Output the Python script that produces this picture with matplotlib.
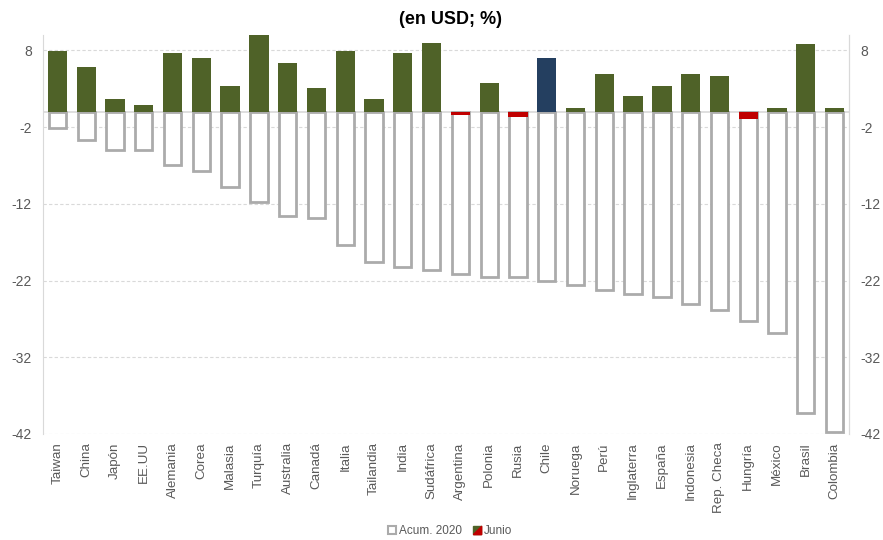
import numpy as np
import matplotlib
matplotlib.use("Agg")
from matplotlib import pyplot as plt
from matplotlib.lines import Line2D
from matplotlib.legend_handler import HandlerTuple

plt.rcParams['font.family'] = ['Liberation Sans', 'DejaVu Sans']
plt.rcParams['axes.unicode_minus'] = False

#==============================================================================
#                  Datos
#==============================================================================

paises = ['Taiwan', 'China', 'Japón', 'EE.UU', 'Alemania', 'Corea', 'Malasia',
          'Turquía', 'Australia', 'Canadá', 'Italia', 'Tailandia', 'India',
          'Sudáfrica', 'Argentina', 'Polonia', 'Rusia', 'Chile', 'Noruega',
          'Perú', 'Inglaterra', 'España', 'Indonesia', 'Rep. Checa', 'Hungría',
          'México', 'Brasil', 'Colombia']

acum2020 = [-2.1, -3.7, -5.0, -5.0, -6.9, -7.7, -9.8, -11.7, -13.6, -13.8,
            -17.4, -19.6, -20.3, -20.6, -21.1, -21.6, -21.6, -22.0, -22.6,
            -23.2, -23.7, -24.2, -25.1, -25.9, -27.3, -28.9, -39.2, -41.7]

junio = [7.9, 5.8, 1.7, 0.9, 7.7, 7.0, 3.4, 10.0, 6.3, 3.1, 7.9, 1.7, 7.7,
         8.9, -0.4, 3.7, -0.7, 7.0, 0.5, 4.9, 2.1, 3.3, 4.9, 4.7, -1.0, 0.5,
         8.8, 0.5]

ticks = [8, -2, -12, -22, -32, -42]

verde = '#4F6228'
azul = '#243F60'
rojo = '#C00000'
gris = '#ABABAB'
texto = '#595959'

colores = []
for p, v in zip(paises, junio):
    if p == 'Chile':
        colores.append(azul)
    elif v < 0:
        colores.append(rojo)
    else:
        colores.append(verde)

#==============================================================================
#                  Grafico
#==============================================================================

fig = plt.figure(figsize=(8.83, 5.4), dpi=100)
ax = fig.add_axes([0.0487, 0.1963, 0.9128, 0.7389])

x = np.arange(len(paises))
ax.bar(x, acum2020, width=0.6, facecolor='white', edgecolor=gris,
       linewidth=2.0, zorder=2)
ax.bar(x, junio, width=0.67, color=colores, zorder=3)

ax.axhline(0, color='#D9D9D9', linewidth=1.2, zorder=1)
for t in ticks:
    ax.axhline(t, color='#D9D9D9', linewidth=0.8, linestyle=(0, (3, 2)), zorder=0)

ax.set_xlim(-0.5, len(paises) - 0.5)
ax.set_ylim(-42, 10)
ax.set_yticks(ticks)
ax.set_xticks(x)
ax.set_xticklabels(paises, rotation=90, fontsize=9.6, color=texto)
ax.tick_params(axis='y', length=0, labelsize=10, labelcolor=texto, pad=8)
ax.tick_params(axis='x', length=0, pad=6)

for s in ['top', 'bottom']:
    ax.spines[s].set_visible(False)
for s in ['left', 'right']:
    ax.spines[s].set_color('#D9D9D9')

ax2 = ax.twinx()
ax2.set_ylim(ax.get_ylim())
ax2.set_yticks(ticks)
ax2.tick_params(axis='y', length=0, labelsize=10, labelcolor=texto, pad=8)
for s in ['top', 'bottom', 'left']:
    ax2.spines[s].set_visible(False)
ax2.spines['right'].set_color('#D9D9D9')

fig.text(0.51, 0.964, '(en USD; %)', ha='center', va='center',
         fontsize=13, fontweight='bold')

h1 = Line2D([], [], marker='s', markersize=6, markerfacecolor='white',
            markeredgecolor=gris, markeredgewidth=1.5, linestyle='None')
h2a = Line2D([], [], marker='s', markersize=6, color=verde, linestyle='None')
h2b = Line2D([], [], marker=[(-1, -1), (1, -1), (1, 1), (-1, -1)],
             markersize=6, color=rojo, linestyle='None')
fig.legend([h1, (h2a, h2b)], ['Acum. 2020', 'Junio'],
           handler_map={tuple: HandlerTuple(ndivide=1)},
           loc='center', bbox_to_anchor=(0.51, 0.017), ncol=2, frameon=False,
           fontsize=8.5, labelcolor=texto, handlelength=0.6, handletextpad=0.3,
           columnspacing=1.0)

fig.savefig('out.png', dpi=100)
